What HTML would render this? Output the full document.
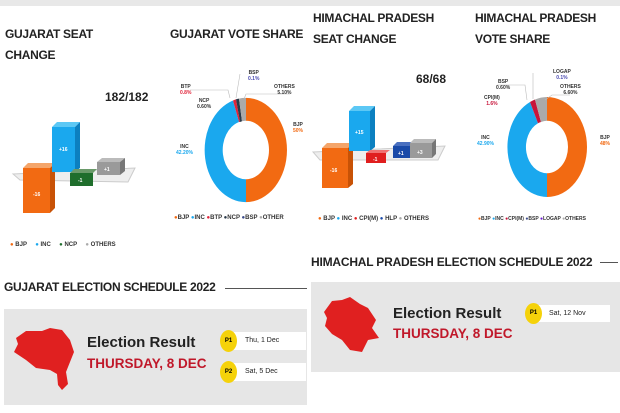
<!DOCTYPE html>
<html><head><meta charset="utf-8"><style>
body{margin:0;width:620px;height:413px;background:#fff;position:relative;overflow:hidden;font-family:"Liberation Sans",sans-serif}
.a{position:absolute;white-space:nowrap}
.t{font-weight:bold;font-size:12px;color:#222;letter-spacing:-0.3px}
.lg{font-size:6px;color:#333;font-weight:bold}
.d{font-size:5px;font-weight:bold;text-align:center;line-height:6px}
</style></head><body>
<div class="a" style="left:0;top:0;width:620px;height:6px;background:#e8e8e8"></div>
<div class="a t" style="left:5px;top:27px">GUJARAT SEAT</div>
<div class="a t" style="left:5px;top:48px">CHANGE</div>
<div class="a t" style="left:170px;top:27px">GUJARAT VOTE SHARE</div>
<div class="a t" style="left:313px;top:11px">HIMACHAL PRADESH</div>
<div class="a t" style="left:313px;top:32px">SEAT CHANGE</div>
<div class="a t" style="left:475px;top:11px">HIMACHAL PRADESH</div>
<div class="a t" style="left:475px;top:32px">VOTE SHARE</div>
<div class="a" style="left:105px;top:90px;font-size:12px;font-weight:bold;color:#222">182/182</div>
<div class="a" style="left:416px;top:72px;font-size:12px;font-weight:bold;color:#222">68/68</div>

<svg class="a" style="left:0;top:0" width="620" height="260">
<polygon points="13,174 135,168 128,182 20,180" fill="#eee" stroke="#ccc" stroke-width="1"/>
<polygon points="23,168 28,163 55,163 50,168" fill="#f4a56a"/>
<rect x="23" y="168" width="27" height="45" fill="#f26a12"/>
<polygon points="50,168 55,163 55,208 50,213" fill="#c85206"/>
<polygon points="52,127 57,122 80,122 75,127" fill="#5cc8f5"/>
<rect x="52" y="127" width="23" height="45" fill="#1aa8ee"/>
<polygon points="75,127 80,122 80,168 75,172" fill="#0c80c0"/>
<polygon points="70,173 74,169 97,169 93,173" fill="#6a9a6a"/>
<rect x="70" y="173" width="23" height="13" fill="#1f6e2c"/>
<polygon points="97,162 102,158 125,158 120,162" fill="#bbb"/>
<rect x="97" y="162" width="23" height="13" fill="#9a9a9a"/>
<polygon points="120,162 125,158 125,171 120,175" fill="#777"/>
<g fill="#fff" font-size="5" font-weight="bold" font-family="Liberation Sans"><text x="33" y="196">-16</text><text x="59" y="151">+16</text><text x="78" y="182">-1</text><text x="104" y="171">+1</text></g>
<polygon points="313,152 445,146 438,160 320,160" fill="#eee" stroke="#ccc" stroke-width="1"/>
<polygon points="322,148 327,143 353,143 348,148" fill="#f4a56a"/>
<rect x="322" y="148" width="26" height="40" fill="#f26a12"/>
<polygon points="348,148 353,143 353,184 348,188" fill="#c85206"/>
<polygon points="349,111 354,106 375,106 370,111" fill="#5cc8f5"/>
<rect x="349" y="111" width="21" height="40" fill="#1aa8ee"/>
<polygon points="370,111 375,106 375,147 370,151" fill="#0c80c0"/>
<polygon points="366,153 370,150 390,150 386,153" fill="#f07070"/>
<rect x="366" y="153" width="20" height="10" fill="#e01e1e"/>
<polygon points="393,146 397,142 414,142 410,146" fill="#4a70c0"/>
<rect x="393" y="146" width="17" height="12" fill="#1a4aa8"/>
<polygon points="410,143 414,139 436,139 432,143" fill="#bbb"/>
<rect x="410" y="143" width="22" height="15" fill="#9a9a9a"/>
<polygon points="432,143 436,139 436,154 432,158" fill="#777"/>
<g fill="#fff" font-size="5" font-weight="bold" font-family="Liberation Sans"><text x="330" y="172">-16</text><text x="355" y="134">+15</text><text x="373" y="161">-1</text><text x="398" y="155">+1</text><text x="417" y="154">+3</text></g>
<g transform="translate(246,150) scale(1,1.27)">
<path d="M0,-41 A41,41 0 0 1 0,41 L0,23 A23,23 0 0 0 0,-23Z" fill="#f26a12"/>
<path d="M0,41 A41,41 0 0 1 -13,-39 L-7,-22 A23,23 0 0 0 0,23Z" fill="#1aa8ee"/>
<path d="M-13,-39 A41,41 0 0 1 -10,-40 L-6,-22 A23,23 0 0 0 -7,-22Z" fill="#e0243a"/>
<path d="M-10,-40 A41,41 0 0 1 -7,-40.5 L-4,-22.6 A23,23 0 0 0 -6,-22Z" fill="#2a3a4a"/>
<path d="M-7,-40.5 A41,41 0 0 1 0,-41 L0,-23 A23,23 0 0 0 -4,-22.6Z" fill="#aaa"/>
</g>
<g transform="translate(547,147) scale(1,1.25)">
<path d="M0,-40 A40,40 0 0 1 0,40 L0,21 A21,21 0 0 0 0,-21Z" fill="#f26a12"/>
<path d="M0,40 A40,40 0 0 1 -17,-36 L-9,-19 A21,21 0 0 0 0,21Z" fill="#1aa8ee"/>
<path d="M-17,-36 A40,40 0 0 1 -12,-38 L-6,-20 A21,21 0 0 0 -9,-19Z" fill="#c8143a"/>
<path d="M-12,-38 A40,40 0 0 1 0,-40 L0,-21 A21,21 0 0 0 -6,-20Z" fill="#aaa"/>
</g>
<g stroke="#bbb" stroke-width="0.6" fill="none">
<polyline points="190,90 228,90 230,98"/><polyline points="240,74 236,98"/><polyline points="290,94 246,94 244,99"/>
<polyline points="497,85 525,85 527,100"/><polyline points="533,73 533,99"/><polyline points="545,100 552,95 570,95"/>
</g>
</svg>
<div class="a d" style="left:180px;top:84px;color:#333">BTP<br><span style="color:#e0243a">0.8%</span></div>
<div class="a d" style="left:197px;top:98px;color:#333">NCP<br>0.60%</div>
<div class="a d" style="left:248px;top:70px;color:#333">BSP<br><span style="color:#4a4ab0">0.1%</span></div>
<div class="a d" style="left:274px;top:84px;color:#333">OTHERS<br>5.10%</div>
<div class="a d" style="left:293px;top:122px;color:#333">BJP<br><span style="color:#f26a12">50%</span></div>
<div class="a d" style="left:176px;top:144px;color:#333">INC<br><span style="color:#1aa8ee">42.20%</span></div>
<div class="a d" style="left:496px;top:79px;color:#333">BSP<br>0.60%</div>
<div class="a d" style="left:484px;top:95px;color:#333">CPI(M)<br><span style="color:#c8143a">1.6%</span></div>
<div class="a d" style="left:553px;top:69px;color:#333">LOGAP<br><span style="color:#4a4ab0">0.1%</span></div>
<div class="a d" style="left:560px;top:84px;color:#333">OTHERS<br>6.60%</div>
<div class="a d" style="left:600px;top:135px;color:#333">BJP<br><span style="color:#f26a12">48%</span></div>
<div class="a d" style="left:477px;top:135px;color:#333">INC<br><span style="color:#1aa8ee">42.90%</span></div>
<div class="a lg" style="left:10px;top:242px"><span style="color:#f26a12">●</span> BJP &nbsp;&nbsp;&nbsp; <span style="color:#1aa8ee">●</span> INC &nbsp;&nbsp;&nbsp; <span style="color:#1f6e2c">●</span> NCP &nbsp;&nbsp;&nbsp; <span style="color:#aaa">●</span> OTHERS</div>
<div class="a lg" style="left:174px;top:215px"><span style="color:#f26a12">●</span>BJP <span style="color:#1aa8ee">●</span>INC <span style="color:#e0243a">●</span>BTP <span style="color:#2a3a4a">●</span>NCP <span style="color:#3a4a8a">●</span>BSP <span style="color:#aaa">●</span>OTHER</div>
<div class="a lg" style="left:318px;top:216px"><span style="color:#f26a12">●</span> BJP <span style="color:#1aa8ee">●</span> INC <span style="color:#e01e1e">●</span> CPI(M) <span style="color:#1a4aa8">●</span> HLP <span style="color:#aaa">●</span> OTHERS</div>
<div class="a lg" style="left:478px;top:216px;font-size:5px"><span style="color:#f26a12">●</span>BJP <span style="color:#1aa8ee">●</span>INC <span style="color:#c8143a">●</span>CPI(M) <span style="color:#3a4a8a">●</span>BSP <span style="color:#6a1ad0">●</span>LOGAP <span style="color:#aaa">●</span>OTHERS</div>

<div class="a" style="left:311px;top:255px;font-size:12px;font-weight:bold;color:#222;letter-spacing:-0.2px">HIMACHAL PRADESH ELECTION SCHEDULE 2022</div>
<div class="a" style="left:600px;top:262px;width:18px;height:1px;background:#555"></div>
<div class="a" style="left:4px;top:280px;font-size:12px;font-weight:bold;color:#222;letter-spacing:-0.3px">GUJARAT ELECTION SCHEDULE 2022</div>
<div class="a" style="left:225px;top:288px;width:82px;height:1px;background:#555"></div>
<div class="a" style="left:4px;top:309px;width:303px;height:96px;background:#e6e6e6"></div>
<div class="a" style="left:311px;top:282px;width:309px;height:90px;background:#e6e6e6"></div>
<svg class="a" style="left:0;top:0" width="620" height="413">
<path d="M16,338 L26,331 L42,331 L50,328 L62,330 L70,340 L74,352 L70,362 L66,372 L68,384 L62,390 L58,385 L57,374 L50,370 L36,368 L26,360 L14,352 L18,344Z" fill="#e02020"/>
<path d="M324,312 L332,301 L342,300 L350,297 L360,304 L368,308 L376,320 L372,328 L379,338 L368,340 L362,352 L350,350 L342,340 L332,334 L325,326 L327,318Z" fill="#e02020"/>
</svg>
<div class="a" style="left:87px;top:334px;font-size:15px;font-weight:bold;color:#222">Election Result</div>
<div class="a" style="left:87px;top:356px;font-size:13.5px;font-weight:bold;color:#c0182a">THURSDAY, 8 DEC</div>
<div class="a" style="left:393px;top:305px;font-size:15px;font-weight:bold;color:#222">Election Result</div>
<div class="a" style="left:393px;top:326px;font-size:13.5px;font-weight:bold;color:#c0182a">THURSDAY, 8 DEC</div>
<div class="a" style="left:232px;top:332px;width:74px;height:18px;background:#fff"></div>
<div class="a" style="left:220px;top:330px;width:17px;height:22px;border-radius:50%;background:#f5d20a;font-size:6px;font-weight:bold;text-align:center;line-height:22px">P1</div>
<div class="a" style="left:245px;top:337px;font-size:7px;color:#222">Thu, 1 Dec</div>
<div class="a" style="left:232px;top:363px;width:74px;height:18px;background:#fff"></div>
<div class="a" style="left:220px;top:361px;width:17px;height:22px;border-radius:50%;background:#f5d20a;font-size:6px;font-weight:bold;text-align:center;line-height:22px">P2</div>
<div class="a" style="left:245px;top:368px;font-size:7px;color:#222">Sat, 5 Dec</div>
<div class="a" style="left:537px;top:305px;width:73px;height:17px;background:#fff"></div>
<div class="a" style="left:525px;top:303px;width:17px;height:21px;border-radius:50%;background:#f5d20a;font-size:6px;font-weight:bold;text-align:center;line-height:21px">P1</div>
<div class="a" style="left:549px;top:310px;font-size:7px;color:#222">Sat, 12 Nov</div>
</body></html>
